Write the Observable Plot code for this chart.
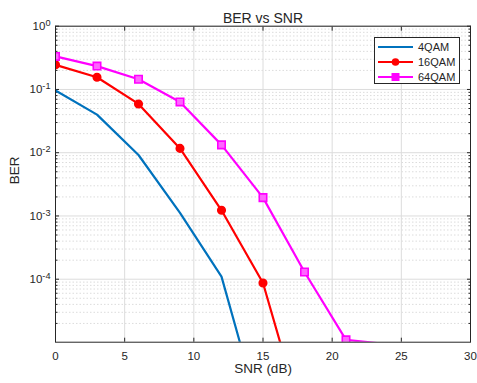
<!DOCTYPE html>
<html>
<head>
<meta charset="utf-8">
<script src="https://cdn.jsdelivr.net/npm/d3@7"></script>
<script src="https://cdn.jsdelivr.net/npm/@observablehq/plot@0.6"></script>
<style>
  html, body { margin: 0; padding: 0; background: #fff; }
  #wrap { position: relative; width: 477px; height: 383px; font-family: "Liberation Sans", Arial, sans-serif; }
  #legend { position: absolute; left: 374px; top: 37px; width: 86px; height: 47px; background: #fff;
            border: 1px solid #262626; box-sizing: border-box; }
  #legend .row { position: absolute; left: 0; height: 14px; display: flex; align-items: center; }
  #legend .row span { font-size: 11px; color: #262626; }
</style>
</head>
<body>
<div id="wrap"></div>
<script>
const title = "BER vs SNR";
const xLabel = "SNR (dB)";
const yLabel = "BER";
const seriesNames = ["4QAM", "16QAM", "64QAM"];
const seriesColors = ["#0072BD", "#FF0000", "#FF00FF"];
const seriesMarkers = [null, "circle", "square"];
const snr = [0, 3, 6, 9, 12, 15, 18, 21, 24];
const ber4QAM  = [0.096, 0.040, 0.0092, 0.00112, 1.1e-4, 5e-7, null, null, null];
const ber16QAM = [0.245, 0.156, 0.059, 0.0117, 1.23e-3, 8.7e-5, 4.7e-7, null, null];
const ber64QAM = [0.333, 0.234, 0.145, 0.0635, 0.0133, 1.95e-3, 1.3e-4, 1.1e-5, 9.4e-6];
const xTicks = [0, 5, 10, 15, 20, 25, 30];
const yTicks = [1e-4, 1e-3, 1e-2, 1e-1, 1];
const xDomain = [0, 30];
const yDomain = [1.01e-5, 1];

const seriesValues = [ber4QAM, ber16QAM, ber64QAM];
const data = [];
seriesNames.forEach((name, s) => {
  snr.forEach((x, i) => {
    const v = seriesValues[s][i];
    if (v != null) data.push({series: name, snr: x, ber: v});
  });
});
// markers are only drawn for points inside the axes (as MATLAB does)
const inside = d => d.ber >= yDomain[0] && d.ber <= yDomain[1];

const minorTicks = [];
for (let e = -5; e < 0; e++) for (let k = 2; k <= 9; k++) {
  const v = k * Math.pow(10, e);
  if (v >= yDomain[0] && v <= yDomain[1]) minorTicks.push(v);
}

const fmtPow = d => "10^" + Math.round(Math.log10(d));

const axisColor = "#262626";
const gridColor = "#dcdcdc";

const chart = Plot.plot({
  width: 477,
  height: 383,
  marginLeft: 55,
  marginRight: 7,
  marginTop: 25.7,
  marginBottom: 41.3,
  style: {fontFamily: "'Liberation Sans', Arial, sans-serif", fontSize: "11.5px", color: axisColor, background: "#fff"},
  x: {domain: xDomain, label: null},
  y: {type: "log", domain: yDomain, label: null},
  marks: [
    Plot.ruleY(minorTicks, {stroke: gridColor, strokeWidth: 1, strokeDasharray: "1.5,2"}),
    Plot.gridX({ticks: xTicks, stroke: gridColor, strokeOpacity: 1}),
    Plot.gridY({ticks: yTicks, stroke: gridColor, strokeOpacity: 1}),
    // labels
    Plot.axisX({ticks: xTicks, tickSize: 0, tickPadding: 10, tickFormat: d => String(d), fill: axisColor, label: null}),
    Plot.axisY({ticks: yTicks, tickSize: 0, tickPadding: 5, tickFormat: fmtPow, fill: axisColor, label: null}),
    // inward ticks
    Plot.axisX({ticks: xTicks, anchor: "bottom", tickSize: -4, tickFormat: () => "", stroke: axisColor, label: null}),
    Plot.axisX({ticks: xTicks, anchor: "top", tickSize: -4, tickFormat: () => "", stroke: axisColor, label: null}),
    Plot.axisY({ticks: yTicks, anchor: "left", tickSize: -4, tickFormat: () => "", stroke: axisColor, label: null}),
    Plot.axisY({ticks: yTicks, anchor: "right", tickSize: -4, tickFormat: () => "", stroke: axisColor, label: null}),
    Plot.axisY({ticks: minorTicks, anchor: "left", tickSize: -2.5, tickFormat: () => "", stroke: axisColor, label: null}),
    Plot.axisY({ticks: minorTicks, anchor: "right", tickSize: -2.5, tickFormat: () => "", stroke: axisColor, label: null}),
    // series
    Plot.line(data, {x: "snr", y: "ber", z: "series", stroke: "series", strokeWidth: 2.2, clip: true}),
    Plot.dot(data.filter(d => d.series === seriesNames[1] && inside(d)), {x: "snr", y: "ber", r: 3.8, fill: seriesColors[1], stroke: seriesColors[1], symbol: "circle", clip: true}),
    Plot.dot(data.filter(d => d.series === seriesNames[2] && inside(d)), {x: "snr", y: "ber", r: 4.2, fill: "#ff66ff", stroke: seriesColors[2], strokeWidth: 1.6, symbol: "square", clip: true}),
    Plot.frame({stroke: axisColor, strokeWidth: 1}),
    // titles
    Plot.text([title], {frameAnchor: "top", dy: -13, fontSize: 14, fill: axisColor}),
    Plot.text([xLabel], {frameAnchor: "bottom", dy: 31, fontSize: 13.5, fill: axisColor}),
    Plot.text([yLabel], {frameAnchor: "left", dx: -41, rotate: -90, fontSize: 13.5, fill: axisColor})
  ],
  color: {domain: seriesNames, range: seriesColors}
});

// turn "10^e" labels into real superscripts
d3.select(chart).selectAll("text").each(function() {
  const m = /^10\^(-?\d+)$/.exec(this.textContent);
  if (!m) return;
  const t = d3.select(this);
  t.text("");
  t.append("tspan").text("10");
  t.append("tspan").attr("dy", "-0.45em").attr("font-size", "0.8em").text(m[1]);
});

const wrap = document.getElementById("wrap");
wrap.appendChild(chart);

// legend
const legend = document.createElement("div");
legend.id = "legend";
const rowTops = [2, 17, 32];
seriesNames.forEach((name, i) => {
  const row = document.createElement("div");
  row.className = "row";
  row.style.top = rowTops[i] + "px";
  let marker = "";
  if (seriesMarkers[i] === "circle") marker = `<circle cx="17.5" cy="7" r="3.8" fill="${seriesColors[i]}"/>`;
  if (seriesMarkers[i] === "square") marker = `<rect x="13.5" y="3" width="8" height="8" fill="${seriesColors[i]}"/>`;
  row.innerHTML = `<svg width="36" height="14" style="display:block;margin-left:3px;margin-right:4px"><line x1="0" x2="35" y1="7" y2="7" stroke="${seriesColors[i]}" stroke-width="2.2"/>${marker}</svg><span>${name}</span>`;
  legend.appendChild(row);
});
wrap.appendChild(legend);
</script>
</body>
</html>
